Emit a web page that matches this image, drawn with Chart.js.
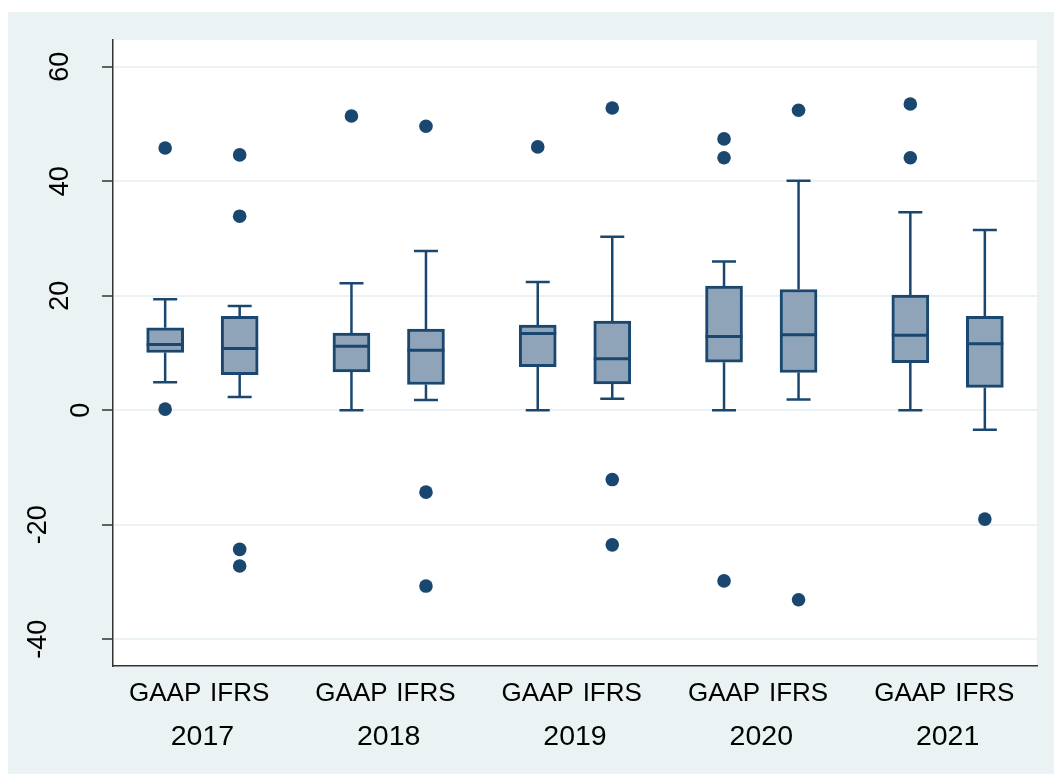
<!DOCTYPE html>
<html>
<head>
<meta charset="utf-8">
<title>GAAP vs IFRS by year</title>
<script src="https://cdn.jsdelivr.net/npm/chart.js@4.4.1/dist/chart.umd.min.js"></script>
<style>
  html, body { margin: 0; padding: 0; background: #ffffff; }
  #wrap { width: 1054px; height: 774px; position: relative; }
</style>
</head>
<body>
<div id="wrap"><canvas id="chart"></canvas></div>
<script>
// ---- data ----
const years = ['2017', '2018', '2019', '2020', '2021'];
const standards = ['GAAP', 'IFRS'];
const yTickValues = [-40, -20, 0, 20, 40, 60];

// GAAP box statistics per year
const gaapLowerWhisker = [4.9, 0, 0, 0, 0];
const gaapQ1           = [10.1, 6.7, 7.6, 8.4, 8.3];
const gaapMedian       = [11.5, 11.2, 13.4, 12.9, 13.1];
const gaapQ3           = [14.4, 13.5, 14.9, 21.7, 20.1];
const gaapUpperWhisker = [19.4, 22.2, 22.4, 26.0, 34.6];
const gaapOutliers     = [[45.8, 0.2], [51.4], [46.0], [47.4, 44.1, -29.8], [53.5, 44.1]];

// IFRS box statistics per year
const ifrsLowerWhisker = [2.3, 1.8, 2.0, 1.9, -3.4];
const ifrsQ1           = [6.2, 4.5, 4.6, 6.6, 4.0];
const ifrsMedian       = [10.8, 10.5, 9.0, 13.2, 11.6];
const ifrsQ3           = [16.4, 14.2, 15.6, 21.1, 16.4];
const ifrsUpperWhisker = [18.2, 27.8, 30.3, 40.1, 31.5];
const ifrsOutliers     = [[44.6, 33.9, -24.3, -27.2], [49.6, -14.3, -30.7], [52.8, -12.1, -23.5], [52.4, -33.1], [-19.0]];

// ---- layout of boxes along a numeric x axis ----
const NAVY = '#1a476f';
const BOX_FILL = '#8fa4b8';
const FONT = '"Liberation Sans", Arial, Helvetica, sans-serif';

const stats = {
  GAAP: { lo: gaapLowerWhisker, q1: gaapQ1, med: gaapMedian, q3: gaapQ3, hi: gaapUpperWhisker, out: gaapOutliers },
  IFRS: { lo: ifrsLowerWhisker, q1: ifrsQ1, med: ifrsMedian, q3: ifrsQ3, hi: ifrsUpperWhisker, out: ifrsOutliers }
};

const boxes = [];
years.forEach((yr, i) => {
  standards.forEach((std, j) => {
    const s = stats[std];
    boxes.push({
      pos: 1 + 2.5 * i + j,
      label: std,
      lo: s.lo[i], q1: s.q1[i], med: s.med[i], q3: s.q3[i], hi: s.hi[i],
      out: s.out[i]
    });
  });
});
const yearCentres = years.map((_, i) => 1.5 + 2.5 * i);

const boxData = boxes.map(b => ({ x: b.pos, y: [b.q1, b.q3] }));
const outlierData = [];
boxes.forEach(b => b.out.forEach(v => outlierData.push({ x: b.pos, y: v })));

// ---- plugins ----
const backdrop = {
  id: 'backdrop',
  beforeDraw(chart) {
    const { ctx, chartArea: a } = chart;
    ctx.save();
    ctx.fillStyle = '#ffffff';
    ctx.fillRect(0, 0, chart.width, chart.height);
    ctx.fillStyle = '#eaf2f3';
    ctx.fillRect(8, 12, chart.width - 8, chart.height - 12);
    ctx.fillStyle = '#ffffff';
    ctx.fillRect(a.left, a.top, a.right - a.left, a.bottom - a.top);
    ctx.restore();
  }
};

const whiskers = {
  id: 'whiskers',
  afterDatasetsDraw(chart) {
    const { ctx } = chart;
    const xs = chart.scales.x, ys = chart.scales.y;
    const boxHalf = 18.5, capHalf = 12;
    ctx.save();
    ctx.strokeStyle = NAVY;
    ctx.lineCap = 'butt';
    boxes.forEach(b => {
      const cx = xs.getPixelForValue(b.pos);
      const pLo = ys.getPixelForValue(b.lo);
      const pQ1 = ys.getPixelForValue(b.q1);
      const pQ3 = ys.getPixelForValue(b.q3);
      const pHi = ys.getPixelForValue(b.hi);
      const pMed = ys.getPixelForValue(b.med);
      ctx.lineWidth = 2.5;
      ctx.beginPath();
      ctx.moveTo(cx, pQ3); ctx.lineTo(cx, pHi);
      ctx.moveTo(cx - capHalf, pHi); ctx.lineTo(cx + capHalf, pHi);
      ctx.moveTo(cx, pQ1); ctx.lineTo(cx, pLo);
      ctx.moveTo(cx - capHalf, pLo); ctx.lineTo(cx + capHalf, pLo);
      ctx.stroke();
      ctx.lineWidth = 3;
      ctx.beginPath();
      ctx.moveTo(cx - boxHalf, pMed); ctx.lineTo(cx + boxHalf, pMed);
      ctx.stroke();
    });
    ctx.restore();
  }
};

const yLabels = {
  id: 'yLabels',
  afterDraw(chart) {
    const { ctx } = chart;
    const ys = chart.scales.y;
    ctx.save();
    ctx.font = '27px ' + FONT;
    ctx.fillStyle = '#000000';
    ctx.textAlign = 'center';
    ctx.textBaseline = 'alphabetic';
    ys.ticks.forEach(t => {
      const label = String(t.value);
      const py = ys.getPixelForValue(t.value);
      const cx = 101 - 21.5 * label.length;
      ctx.save();
      ctx.translate(cx, py);
      ctx.rotate(-Math.PI / 2);
      ctx.fillText(label, 0, 9.7);
      ctx.restore();
    });
    ctx.restore();
  }
};

// ---- chart ----
new Chart(document.getElementById('chart'), {
  type: 'bar',
  data: {
    datasets: [
      {
        type: 'bar',
        label: 'box',
        data: boxData,
        backgroundColor: BOX_FILL,
        borderColor: NAVY,
        borderWidth: 3,
        borderSkipped: false,
        barThickness: 37,
        grouped: false,
        order: 2
      },
      {
        type: 'scatter',
        label: 'outliers',
        data: outlierData,
        backgroundColor: NAVY,
        borderWidth: 0,
        pointRadius: 6.8,
        pointHoverRadius: 6.8,
        order: 1
      }
    ]
  },
  options: {
    responsive: true,
    maintainAspectRatio: false,
    animation: false,
    events: [],
    layout: { padding: { top: 40, right: 17, left: 0, bottom: 0 } },
    plugins: { legend: { display: false }, tooltip: { enabled: false } },
    scales: {
      x: {
        type: 'linear',
        position: 'bottom',
        weight: 0,
        offset: false,
        min: 0.3,
        max: 12.7,
        afterBuildTicks: s => { s.ticks = boxes.map(b => ({ value: b.pos })); },
        afterFit: s => { s.height = 45; },
        grid: { display: false },
        border: { display: true, color: '#333333', width: 1.5 },
        ticks: {
          autoSkip: false, maxRotation: 0, minRotation: 0,
          padding: 4, color: '#000000',
          font: { family: FONT, size: 26 },
          callback: (v, i) => boxes[i].label
        }
      },
      years: {
        type: 'linear',
        position: 'bottom',
        weight: 1,
        offset: false,
        min: 0.3,
        max: 12.7,
        afterBuildTicks: s => { s.ticks = yearCentres.map(v => ({ value: v })); },
        afterFit: s => { s.height = 63; },
        grid: { display: false },
        border: { display: false },
        ticks: {
          autoSkip: false, maxRotation: 0, minRotation: 0,
          padding: 1, color: '#000000',
          font: { family: FONT, size: 28.5 },
          callback: (v, i) => years[i]
        }
      },
      y: {
        type: 'linear',
        position: 'left',
        min: -44.66,
        max: 64.67,
        afterBuildTicks: s => { s.ticks = yTickValues.map(v => ({ value: v })); },
        afterFit: s => { s.width = 113; },
        grid: {
          color: '#eaf2f3', lineWidth: 2,
          drawTicks: true, tickLength: 11, tickColor: '#333333', tickWidth: 1.5
        },
        border: { display: true, color: '#333333', width: 1.5 },
        ticks: { display: false }
      }
    }
  },
  plugins: [backdrop, whiskers, yLabels]
});
</script>
</body>
</html>
